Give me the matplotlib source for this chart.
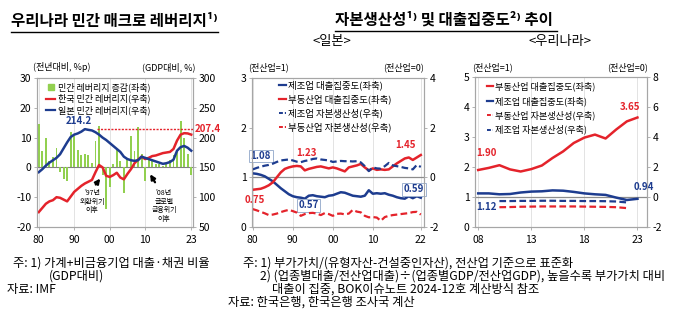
import numpy as np
import matplotlib
matplotlib.use('Agg')
import matplotlib.pyplot as plt
from matplotlib.lines import Line2D

plt.rcParams['font.family'] = ['Noto Sans CJK KR', 'DejaVu Sans']
plt.rcParams['axes.unicode_minus'] = False

RED = '#e4232b'
BLUE = '#1d3c8f'
GREEN = '#92d050'
FRAME = '#a6a6a6'
GRID = '#e3e3e3'

# ── 민간 매크로 레버리지 (1980~2023) ─────────────────────────────────────────
years_lev = np.arange(1980, 2024)
lev_chg = [14.5, 5.5, 9.8, 2.0, 3.5, 6.5, -1.5, -4.0, -4.5, 12.0,
           10.5, 6.0, 4.0, 4.5, 4.0, 1.5, 9.0, 14.0, -2.5, -14.0,
           -6.5, 1.0, 6.0, 2.0, -8.5, 3.0, 10.5, 5.5, 13.5, 4.5,
           -4.5, 3.5, 2.5, 1.0, 1.0, 0.5, 1.0, 2.5, 4.0, 5.0,
           15.5, 10.0, 4.5, -2.5]
kor_lev = [75, 82, 89, 93, 95, 100, 99, 96, 93, 101,
           109, 114, 119, 123, 126, 129, 142, 154, 150, 136,
           134, 137, 141, 133, 130, 139, 147, 157, 163, 168,
           164, 166, 169, 170, 172, 174, 175, 176, 181, 195,
           205, 207.4, 207, 205]
jpn_lev = [142, 147, 153, 158, 162, 166, 172, 182, 192, 201,
           205, 207, 210, 214.2, 213, 212, 209, 205, 200, 196,
           191, 186, 181, 176, 168, 164, 162, 161, 162, 168,
           166, 164, 162, 160, 158, 156, 157, 159, 163, 178,
           184, 186, 183, 178]

# ── 일본: 대출집중도(좌축), 자본생산성(우축) 1980~2022 ─────────────────────
years_jp = np.arange(1980, 2023)
jp_mfg_loan = [1.08, 1.07, 1.05, 1.02, 0.97, 0.92, 0.85, 0.78, 0.72, 0.66,
               0.62, 0.60, 0.59, 0.57, 0.63, 0.64, 0.62, 0.61, 0.60, 0.63,
               0.64, 0.67, 0.70, 0.69, 0.66, 0.63, 0.62, 0.61, 0.63, 0.74,
               0.67, 0.68, 0.67, 0.68, 0.65, 0.63, 0.60, 0.58, 0.57, 0.62,
               0.58, 0.62, 0.59]
jp_re_loan = [0.75, 0.76, 0.77, 0.80, 0.84, 0.90, 1.00, 1.10, 1.17, 1.20,
              1.22, 1.23, 1.22, 1.14, 1.17, 1.19, 1.21, 1.22, 1.20, 1.18,
              1.20, 1.18, 1.15, 1.12, 1.20, 1.22, 1.24, 1.27, 1.20, 1.14,
              1.18, 1.15, 1.16, 1.15, 1.16, 1.22, 1.28, 1.33, 1.38, 1.40,
              1.35, 1.40, 1.45]
jp_mfg_cap = [0.32, 0.38, 0.43, 0.47, 0.50, 0.55, 0.62, 0.68, 0.70, 0.72,
              0.68, 0.63, 0.61, 0.66, 0.69, 0.74, 0.76, 0.72, 0.70, 0.68,
              0.62, 0.64, 0.66, 0.65, 0.65, 0.64, 0.65, 0.60, 0.45, 0.25,
              0.40, 0.36, 0.35, 0.45, 0.58, 0.48, 0.45, 0.42, 0.38, 0.36,
              0.32, 0.50, 0.42]
jp_re_cap = [-1.28, -1.33, -1.39, -1.45, -1.52, -1.50, -1.46, -1.40, -1.35, -1.31,
             -1.36, -1.42, -1.55, -1.48, -1.44, -1.43, -1.46, -1.52, -1.44, -1.48,
             -1.55, -1.47, -1.46, -1.49, -1.46, -1.31, -1.38, -1.41, -1.55, -1.61,
             -1.60, -1.62, -1.75, -1.60, -1.55, -1.52, -1.50, -1.48, -1.46, -1.44,
             -1.40, -1.39, -1.50]

# ── 우리나라: 대출집중도 2008~2023, 자본생산성 2010~2022 ───────────────────
years_kr = np.arange(2008, 2024)
kr_re_loan = [1.90, 1.97, 2.06, 1.92, 1.85, 1.93, 2.05, 2.30,
              2.52, 2.80, 2.98, 3.08, 2.95, 3.25, 3.52, 3.65]
kr_mfg_loan = [1.12, 1.12, 1.09, 1.10, 1.15, 1.18, 1.19, 1.22,
               1.21, 1.17, 1.12, 1.09, 1.07, 0.98, 0.90, 0.94]
years_kr_cap = np.arange(2010, 2023)
kr_re_cap = [-0.68, -0.67, -0.65, -0.64, -0.63, -0.63, -0.63,
             -0.63, -0.64, -0.65, -0.66, -0.68, -0.74]
kr_mfg_cap = [-0.27, -0.27, -0.26, -0.26, -0.25, -0.25, -0.26,
              -0.26, -0.27, -0.27, -0.28, -0.30, -0.36]

W, H = 680, 331
fig = plt.figure(figsize=(W / 100, H / 100), dpi=100)


def px_box(x0, y0, x1, y1):
    return [x0 / W, 1 - y1 / H, (x1 - x0) / W, (y1 - y0) / H]


def fig_text(x, y, s, **kw):
    kw.setdefault('va', 'center')
    kw.setdefault('color', 'black')
    return fig.text(x / W, 1 - y / H, s, **kw)


def underline(x0, x1, y):
    fig.add_artist(Line2D([x0 / W, x1 / W], [1 - y / H, 1 - y / H],
                          transform=fig.transFigure, color='black', lw=1.0))


def style_axes(ax, ax2):
    for a in (ax, ax2):
        for sp in a.spines.values():
            sp.set_color(FRAME)
            sp.set_linewidth(0.8)
        a.tick_params(labelsize=7.5, length=2, width=0.6, color=FRAME, pad=2)
    ax.tick_params(axis='x', pad=4)
    ax.grid(axis='x', color=GRID, lw=0.7)
    ax.set_axisbelow(True)


# ── 왼쪽: 민간 매크로 레버리지 ─────────────────────────────────────────────
ax1 = fig.add_axes(px_box(37, 78, 193, 227))
ax1r = ax1.twinx()
ax1.bar(years_lev, lev_chg, width=0.55, color=GREEN, zorder=2)
ax1.axhline(0, color='#808080', lw=0.8, zorder=1)
ax1r.plot(years_lev, kor_lev, color=RED, lw=1.8)
ax1r.plot(years_lev, jpn_lev, color=BLUE, lw=1.8)
peak_yr = years_lev[int(np.argmax(jpn_lev))]
ax1r.hlines(max(jpn_lev), 1996.3, 2023.5, color=RED, ls=(0, (1.5, 1)), lw=1.0)
ax1.set_xlim(1979.5, 2023.5)
ax1.set_ylim(-20, 30)
ax1r.set_ylim(50, 300)
ax1.set_yticks(range(-20, 31, 10))
ax1r.set_yticks(range(50, 301, 50))
ax1.set_xticks([1980, 1990, 2000, 2010, 2023])
ax1.set_xticklabels(['80', '90', '00', '10', '23'])
style_axes(ax1, ax1r)

ax1r.text(peak_yr - 1.6, max(jpn_lev) + 6, f'{max(jpn_lev):.1f}', color=BLUE,
          fontsize=7, fontweight='bold', ha='center', va='bottom')
ax1r.text(2023.9, max(jpn_lev), f'{max(kor_lev):.1f}', color=RED, fontsize=7,
          fontweight='bold', ha='left', va='center', clip_on=False)

ax1.annotate("", xy=(1997.8, -3.0), xytext=(1995.6, -6.5),
             arrowprops=dict(arrowstyle='-|>', color='black', lw=1.6,
                             mutation_scale=7))
ax1.text(1995.0, -11.5, "'97년\n외환위기\n이후", fontsize=5, ha='center',
         va='center', linespacing=1.1)
ax1.annotate("", xy=(2011.0, -1.5), xytext=(2013.2, -5.8),
             arrowprops=dict(arrowstyle='-|>', color='black', lw=1.6,
                             mutation_scale=7))
ax1.text(2015.3, -13.0, "'08년\n글로벌\n금융위기\n이후", fontsize=5,
         ha='center', va='center', linespacing=1.1)

h1 = [Line2D([], [], marker='s', ls='none', color=GREEN, markersize=4.5),
      Line2D([], [], color=RED, lw=1.6),
      Line2D([], [], color=BLUE, lw=1.6)]
ax1.legend(h1, ['민간 레버리지 증감(좌축)', '한국 민간 레버리지(우축)',
                '일본 민간 레버리지(우축)'],
           loc='upper left', bbox_to_anchor=(0.02, 1.01), frameon=False,
           fontsize=6.5, handlelength=0.9, handletextpad=0.35,
           labelspacing=0.15, borderpad=0.2)

fig_text(33, 67, '(전년대비, %p)', fontsize=6.5, ha='left')
fig_text(196, 67, '(GDP대비, %)', fontsize=6.5, ha='right')


# ── 가운데: 일본 ───────────────────────────────────────────────────────────
ax2 = fig.add_axes(px_box(252, 78, 424, 227))
ax2r = ax2.twinx()
ax2.axhline(1, color='#8c8c8c', lw=0.9, zorder=1)
ax2.plot(years_jp, jp_mfg_loan, color=BLUE, lw=1.8, zorder=3)
ax2.plot(years_jp, jp_re_loan, color=RED, lw=1.8, zorder=3)
ax2r.plot(years_jp, jp_mfg_cap, color=BLUE, lw=1.6, ls=(0, (3, 1.5)))
ax2r.plot(years_jp, jp_re_cap, color=RED, lw=1.6, ls=(0, (3, 1.5)))
ax2.set_xlim(1979.8, 2022.8)
ax2.set_ylim(0, 3)
ax2r.set_ylim(-2, 4)
ax2.set_yticks([0, 1, 2, 3])
ax2r.set_yticks([-2, 0, 2, 4])
ax2.set_xticks([1980, 1990, 2000, 2010, 2022])
ax2.set_xticklabels(['80', '90', '00', '10', '22'])
style_axes(ax2, ax2r)

boxed = dict(boxstyle='square,pad=0.15', fc='white', ec='#9fb2d0', lw=0.7)
i_min = int(np.argmin(jp_mfg_loan))
i_max = int(np.argmax(jp_re_loan[:20]))
ax2.text(1982.0, 1.43, f'{jp_mfg_loan[0]:.2f}', color=BLUE, fontsize=7,
         fontweight='bold', ha='center', va='center', bbox=boxed, zorder=5)
ax2.text(years_jp[i_min] + 1.0, 0.44, f'{jp_mfg_loan[i_min]:.2f}', color=BLUE,
         fontsize=7, fontweight='bold', ha='center', va='center', bbox=boxed,
         zorder=5)
ax2.text(2020.3, 0.76, f'{jp_mfg_loan[-1]:.2f}', color=BLUE, fontsize=7,
         fontweight='bold', ha='center', va='center', bbox=boxed, zorder=5)
ax2.text(1980.4, 0.54, f'{jp_re_loan[0]:.2f}', color=RED, fontsize=7,
         fontweight='bold', ha='center', va='center')
ax2.text(years_jp[i_max] + 2.5, 1.49, f'{jp_re_loan[i_max]:.2f}', color=RED,
         fontsize=7, fontweight='bold', ha='center', va='center')
ax2.text(2018.2, 1.65, f'{jp_re_loan[-1]:.2f}', color=RED, fontsize=7,
         fontweight='bold', ha='center', va='center')

h2 = [Line2D([], [], color=BLUE, lw=1.6),
      Line2D([], [], color=RED, lw=1.6),
      Line2D([], [], color=BLUE, lw=1.4, ls=(0, (2, 1))),
      Line2D([], [], color=RED, lw=1.4, ls=(0, (2, 1)))]
ax2.legend(h2, ['제조업 대출집중도(좌축)', '부동산업 대출집중도(좌축)',
                '제조업 자본생산성(우축)', '부동산업 자본생산성(우축)'],
           loc='upper left', bbox_to_anchor=(0.12, 1.025), frameon=False,
           fontsize=6.8, handlelength=0.7, handletextpad=0.25,
           labelspacing=0.45, borderpad=0.2)

fig_text(248, 67, '(전산업=1)', fontsize=6.5, ha='left')
fig_text(424, 67, '(전산업=0)', fontsize=6.5, ha='right')


# ── 오른쪽: 우리나라 ───────────────────────────────────────────────────────
ax3 = fig.add_axes(px_box(475, 77, 647, 227))
ax3r = ax3.twinx()
ax3.axhline(1, color='#8c8c8c', lw=0.9, zorder=1)
ax3.plot(years_kr, kr_re_loan, color=RED, lw=1.8, zorder=3)
ax3.plot(years_kr, kr_mfg_loan, color=BLUE, lw=1.8, zorder=3)
ax3r.plot(years_kr_cap, kr_re_cap, color=RED, lw=1.6, ls=(0, (3, 1.5)))
ax3r.plot(years_kr_cap, kr_mfg_cap, color=BLUE, lw=1.6, ls=(0, (3, 1.5)))
ax3.set_xlim(2007.7, 2023.9)
ax3.set_ylim(0, 5)
ax3r.set_ylim(-2, 8)
ax3.set_yticks(range(0, 6))
ax3r.set_yticks(range(-2, 9, 2))
ax3.set_xticks([2008, 2013, 2018, 2023])
ax3.set_xticklabels(['08', '13', '18', '23'])
style_axes(ax3, ax3r)

ax3.text(2008.8, 2.47, f'{kr_re_loan[0]:.2f}', color=RED, fontsize=7,
         fontweight='bold', ha='center', va='center')
ax3.text(2008.8, 0.67, f'{kr_mfg_loan[0]:.2f}', color=BLUE, fontsize=7,
         fontweight='bold', ha='center', va='center')
ax3.text(2022.3, 4.0, f'{kr_re_loan[-1]:.2f}', color=RED, fontsize=7,
         fontweight='bold', ha='center', va='center')
ax3.text(2023.6, 1.33, f'{kr_mfg_loan[-1]:.2f}', color=BLUE, fontsize=7,
         fontweight='bold', ha='center', va='center')

h3 = [Line2D([], [], color=RED, lw=1.6),
      Line2D([], [], color=BLUE, lw=1.6),
      Line2D([], [], color=RED, lw=1.4, ls=(0, (2, 1))),
      Line2D([], [], color=BLUE, lw=1.4, ls=(0, (2, 1)))]
ax3.legend(h3, ['부동산업 대출집중도(좌축)', '제조업 대출집중도(좌축)',
                '부동산업 자본생산성(우축)', '제조업 자본생산성(우축)'],
           loc='upper left', bbox_to_anchor=(0.03, 1.01), frameon=False,
           fontsize=6.6, handlelength=0.7, handletextpad=0.25,
           labelspacing=0.5, borderpad=0.2)

fig_text(472, 67, '(전산업=1)', fontsize=6.5, ha='left')
fig_text(648, 67, '(전산업=0)', fontsize=6.5, ha='right')


# ── 제목, 주석 ────────────────────────────────────────────────────────────
fig_text(11, 21, '우리나라 민간 매크로 레버리지¹⁾', fontsize=11.2,
         fontweight='bold', ha='left')
underline(11, 218, 32)
fig_text(335, 20, '자본생산성¹⁾ 및 대출집중도²⁾ 추이', fontsize=11.2,
         fontweight='bold', ha='left')
underline(335, 557, 31)
fig_text(332, 42, '<일본>', fontsize=9.5, ha='center')
fig_text(560, 42, '<우리나라>', fontsize=9.5, ha='center')

fn = dict(fontsize=8.8, ha='left')
fig_text(13, 263, '주: 1) 가계+비금융기업 대출·채권 비율', **fn)
fig_text(49, 276, '(GDP대비)', **fn)
fig_text(7, 289, '자료: IMF', **fn)
fig_text(243, 263, '주: 1) 부가가치/(유형자산-건설중인자산), 전산업 기준으로 표준화', **fn)
fig_text(260, 276, '2) (업종별대출/전산업대출)÷(업종별GDP/전산업GDP), 높을수록 부가가치 대비', **fn)
fig_text(272, 289, '대출이 집중, BOK이슈노트 2024-12호 계산방식 참조', **fn)
fig_text(228, 302, '자료: 한국은행, 한국은행 조사국 계산', **fn)

fig.savefig('out.png', dpi=100)
